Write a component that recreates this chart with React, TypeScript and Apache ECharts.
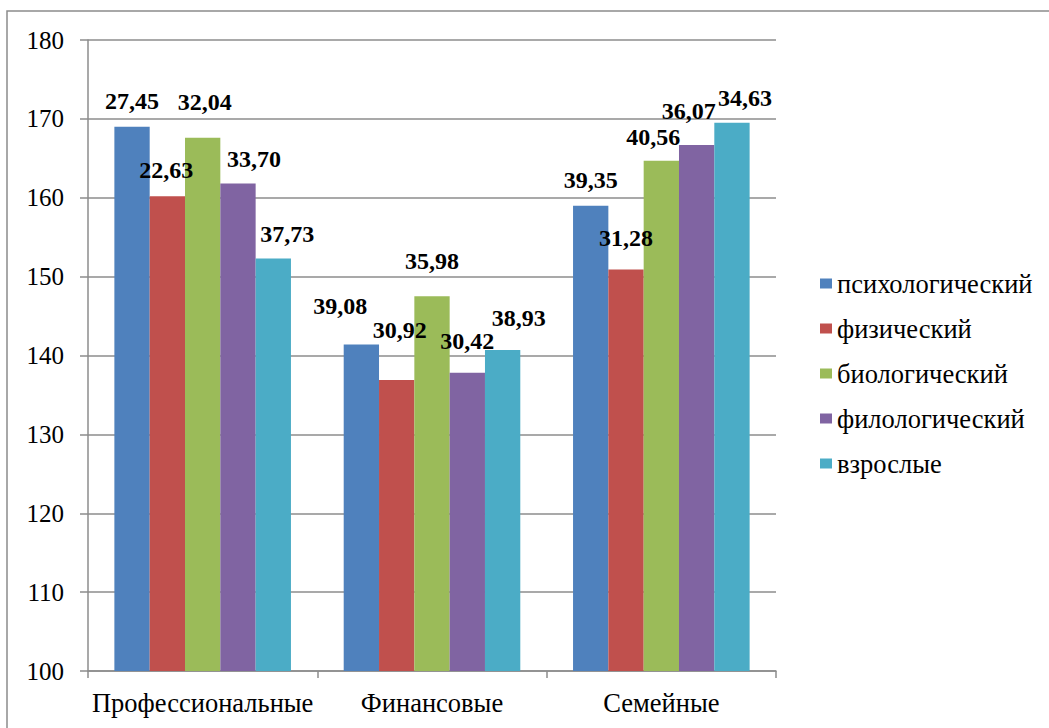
import React, { useEffect, useRef } from "react";
import * as echarts from "echarts";

const categories = ["Профессиональные", "Финансовые", "Семейные"];
const seriesNames = ["психологический", "физический", "биологический", "филологический", "взрослые"];
const colors = ["#4F81BD", "#C0504D", "#9BBB59", "#8064A2", "#4BACC6"];

// bar heights per series (one value per category)
const psychValues = [169.0, 141.4, 159.0];
const physValues = [160.2, 136.9, 150.9];
const bioValues = [167.6, 147.5, 164.7];
const philValues = [161.8, 137.8, 166.7];
const adultValues = [152.3, 140.7, 169.5];
const seriesValues = [psychValues, physValues, bioValues, philValues, adultValues];

// data label texts per series
const psychLabels = ["27,45", "39,08", "39,35"];
const physLabels = ["22,63", "30,92", "31,28"];
const bioLabels = ["32,04", "35,98", "40,56"];
const philLabels = ["33,70", "30,42", "36,07"];
const adultLabels = ["37,73", "38,93", "34,63"];
const seriesLabels = [psychLabels, physLabels, bioLabels, philLabels, adultLabels];

// label offsets (styling), [dx, dy] per series per category
const labelOffsets = [
  [[0, -14], [-21, -26], [0, -14]],
  [[-1, -14], [3, -38], [0, -20]],
  [[2, -24], [0, -23], [-8, -12]],
  [[16, -13], [0, -20], [-8, -22]],
  [[14, -12], [16, -20], [13, -13]],
];

const yTicks = [100, 110, 120, 130, 140, 150, 160, 170, 180];

const FONT = "Liberation Serif";
const GRAY = "#8c8c8c";

export default function App() {
  const ref = useRef<HTMLDivElement>(null);
  useEffect(() => {
    if (!ref.current) return;
    const chart = echarts.init(ref.current, null, { renderer: "svg" });
    const series = seriesNames.map((name, si) => ({
      name,
      type: "bar",
      barGap: "0%",
      barCategoryGap: "23%",
      itemStyle: { color: colors[si] },
      data: seriesValues[si].map((v, ci) => ({
        value: v,
        label: {
          show: true,
          position: "top",
          distance: 0,
          offset: labelOffsets[si][ci],
          formatter: () => seriesLabels[si][ci],
          fontFamily: FONT,
          fontWeight: "bold",
          fontSize: 24,
          color: "#000",
        },
      })),
    }));
    chart.setOption({
      animation: false,
      textStyle: { fontFamily: FONT },
      grid: { left: 88, top: 40, right: 273, bottom: 57, containLabel: false },
      legend: {
        orient: "vertical",
        left: 815,
        top: 265,
        itemWidth: 12,
        itemHeight: 10,
        itemGap: 18,
        icon: "rect",
        data: seriesNames,
        textStyle: { fontFamily: FONT, fontSize: 26.5, color: "#000" },
      },
      xAxis: {
        type: "category",
        data: categories,
        axisLine: { lineStyle: { color: GRAY, width: 1.5 } },
        axisTick: { show: true, length: 7, lineStyle: { color: GRAY, width: 1.5 } },
        axisLabel: { fontFamily: FONT, fontSize: 26.5, color: "#000", margin: 18, interval: 0 },
      },
      yAxis: {
        type: "value",
        min: yTicks[0],
        max: yTicks[yTicks.length - 1],
        interval: 10,
        axisLine: { show: true, lineStyle: { color: GRAY, width: 1.5 } },
        axisTick: { show: true, length: 8, lineStyle: { color: GRAY, width: 1.5 } },
        splitLine: { lineStyle: { color: GRAY, width: 1.5 } },
        axisLabel: { fontFamily: FONT, fontSize: 25, color: "#000", margin: 24 },
      },
      graphic: [
        {
          type: "rect",
          shape: { x: 7, y: 11, width: 1100, height: 800 },
          style: { fill: "none", stroke: GRAY, lineWidth: 1.5 },
          silent: true,
        },
      ],
      series,
    });
    return () => chart.dispose();
  }, []);
  return (
    <div
      ref={ref}
      style={{ position: "fixed", left: 0, top: 0, width: 1049, height: 728, background: "#fff" }}
    />
  );
}
